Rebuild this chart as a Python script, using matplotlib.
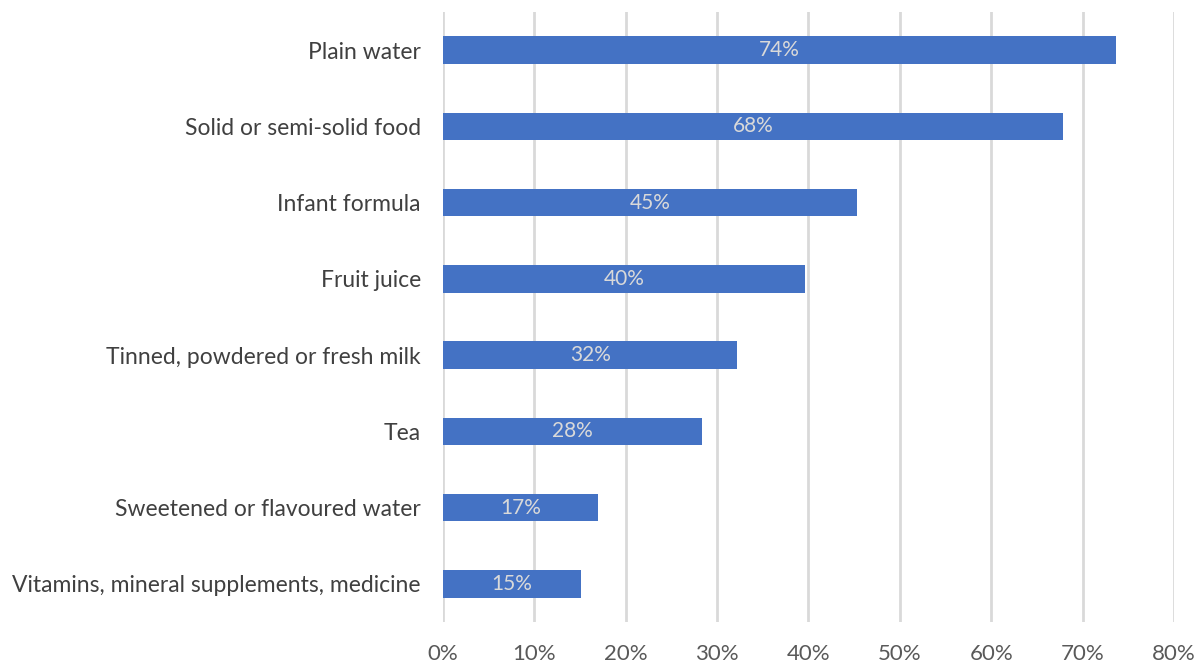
import matplotlib.pyplot as plt
from matplotlib.ticker import PercentFormatter
import numpy as np

plt.rcParams["font.family"] = ["Lato", "DejaVu Sans"]

# categories top to bottom and their shares (%)
categories = [
    "Plain water",
    "Solid or semi-solid food",
    "Infant formula",
    "Fruit juice",
    "Tinned, powdered or fresh milk",
    "Tea",
    "Sweetened or flavoured water",
    "Vitamins, mineral supplements, medicine",
]
values = [73.7, 67.9, 45.3, 39.6, 32.2, 28.3, 17.0, 15.1]
xticks = [0, 10, 20, 30, 40, 50, 60, 70, 80]

fig = plt.figure(figsize=(12.04, 6.66), dpi=100)
ax = fig.add_axes([443 / 1204, 1 - 622 / 666, (1174 - 443) / 1204, 610 / 666])

y = np.arange(len(categories))
bars = ax.barh(y, values, height=0.36, color="#4472C4", zorder=3)

for b, v in zip(bars, values):
    ax.text(b.get_width() / 2, b.get_y() + b.get_height() / 2, f"{v:.0f}%",
            ha="center", va="center", color="#D9D9D9", fontsize=15, zorder=4)

ax.set_ylim(len(categories) - 0.5, -0.5)
ax.set_yticks(y)
ax.set_yticklabels(categories, fontsize=16.5, color="#404040")

ax.set_xlim(0, 80)
ax.set_xticks(xticks)
ax.xaxis.set_major_formatter(PercentFormatter(decimals=0))
ax.tick_params(axis="x", labelsize=16, labelcolor="#595959", length=0, pad=16)
ax.tick_params(axis="y", length=0, pad=16)

ax.grid(axis="x", color="#D9D9D9", linewidth=2, zorder=0)
for s in ax.spines.values():
    s.set_visible(False)

fig.savefig("out.png", dpi=100)
